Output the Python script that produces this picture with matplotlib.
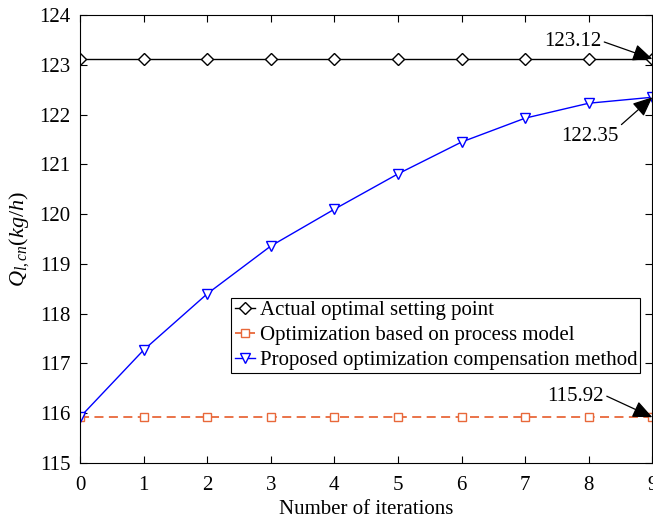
import numpy as np
import matplotlib
matplotlib.use("Agg")
import matplotlib.pyplot as plt

plt.rcParams["font.family"] = ["Liberation Serif", "DejaVu Serif"]
plt.rcParams["mathtext.fontset"] = "custom"
plt.rcParams["mathtext.rm"] = "Liberation Serif"
plt.rcParams["mathtext.it"] = "Liberation Serif:italic"

iterations = [0, 1, 2, 3, 4, 5, 6, 7, 8, 9]
actual = [123.12] * 10
model_based = [115.92] * 10
proposed = [115.92, 117.27, 118.40, 119.36, 120.10, 120.81, 121.45, 121.93, 122.23, 122.35]
orange = "#e8683a"

fig = plt.figure(figsize=(6.53, 5.22), dpi=100)
ax = fig.add_axes([0.1225, 0.113, 0.8765, 0.858])

ax.plot(iterations, actual, color="black", lw=1, marker="D", ms=6,
        mfc="white", mec="black", mew=1, label="Actual optimal setting point")
ax.plot(iterations, model_based, color=orange, lw=1.3, ls=(0, (5, 3)), marker="s", ms=5.5,
        mfc="white", mec=orange, mew=1, label="Optimization based on process model")
ax.plot(iterations, proposed, color="blue", lw=1, marker="v", ms=7,
        mfc="white", mec="blue", mew=1, label="Proposed optimization compensation method")

ax.set_xlim(0, 9)
ax.set_ylim(115, 124)
ax.set_xticks(range(10))
ax.set_yticks(range(115, 125))
ax.tick_params(direction="in", top=True, right=True, labelsize=15, length=5, width=0.8)
ax.tick_params(axis="y", pad=7)
ax.tick_params(axis="x", pad=9)
for s in ax.spines.values():
    s.set_linewidth(0.8)

ax.set_xlabel("Number of iterations", fontsize=15, labelpad=4)
ax.set_ylabel(r"$Q_{l,cn}(kg/h)$", fontsize=16, labelpad=6)

arrow = dict(arrowstyle="-|>,head_length=0.8,head_width=0.35", color="black", lw=0.9,
             shrinkA=0, shrinkB=0, relpos=(1, 0.5))
ax.annotate("123.12", xy=(9, actual[-1]), xytext=(8.2, 123.48), fontsize=15,
            ha="right", va="center", arrowprops=arrow, annotation_clip=False)
ax.annotate("122.35", xy=(9, proposed[-1]), xytext=(8.47, 121.56), fontsize=15,
            ha="right", va="center", arrowprops=dict(arrow, relpos=(1, 1)),
            annotation_clip=False)
ax.annotate("115.92", xy=(9, model_based[-1]), xytext=(8.24, 116.33), fontsize=15,
            ha="right", va="center", arrowprops=dict(arrow, relpos=(1, 0.6)),
            annotation_clip=False)

leg = ax.legend(loc="lower right", bbox_to_anchor=(0.979, 0.201), fontsize=15,
                frameon=True, fancybox=False, edgecolor="black", framealpha=1,
                handlelength=1.0, handletextpad=0.2, borderpad=0.15, labelspacing=0.25,
                borderaxespad=0)
leg.get_frame().set_linewidth(0.8)

fig.savefig("out.png", dpi=100)
